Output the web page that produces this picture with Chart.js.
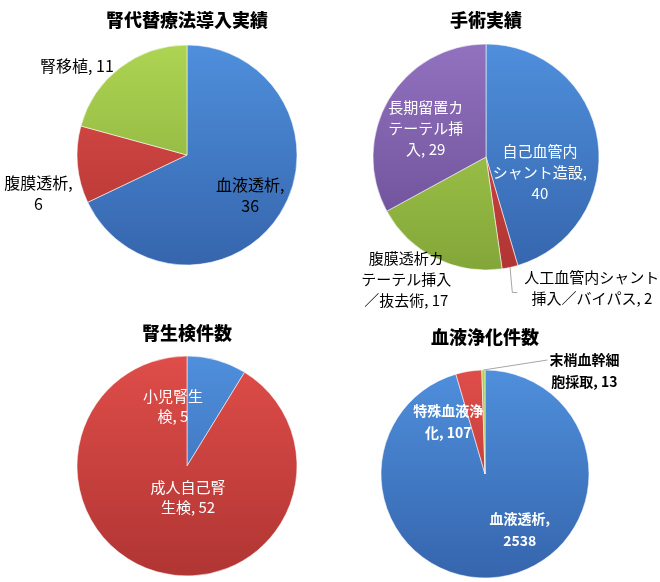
<!DOCTYPE html>
<html>
<head>
<meta charset="utf-8">
<script src="https://cdn.jsdelivr.net/npm/chart.js@4.4.1/dist/chart.umd.min.js"></script>
<style>
  html, body { margin: 0; padding: 0; background: #ffffff; }
  #wrap { position: relative; width: 660px; height: 582px; overflow: hidden; }
  #wrap canvas { position: absolute; left: 0; top: 0; pointer-events: none; }
</style>
</head>
<body>
<div id="wrap"></div>
<script>
// ---------- DATA ----------
const rrtTitle = '腎代替療法導入実績';
const rrtCategories = ['血液透析', '腹膜透析', '腎移植'];
const rrtValues = [36, 6, 11];

const surgeryTitle = '手術実績';
const surgeryCategories = ['自己血管内シャント造設', '人工血管内シャント挿入／バイパス', '腹膜透析カテーテル挿入／抜去術', '長期留置カテーテル挿入'];
const surgeryValues = [40, 2, 17, 29];

const biopsyTitle = '腎生検件数';
const biopsyCategories = ['小児腎生検', '成人自己腎生検'];
const biopsyValues = [5, 52];

const purificationTitle = '血液浄化件数';
const purificationCategories = ['血液透析', '特殊血液浄化', '末梢血幹細胞採取'];
const purificationValues = [2538, 107, 13];

// ---------- STYLE ----------
const FONT = '"Noto Sans CJK JP", "Noto Sans", sans-serif';
const W = 660, H = 582;
const PALETTE = {
  blue:   ['#4f8fdc', '#3565ad'],
  red:    ['#df4d49', '#b03533'],
  green:  ['#add452', '#83a639'],
  purple: ['#9272bf', '#684a92']
};

function wrapLabel(text, counts) {
  const lines = [];
  let rest = text;
  counts.forEach(n => { lines.push(rest.slice(0, n)); rest = rest.slice(n).replace(/^\s+/, ''); });
  lines.push(rest);
  return lines;
}

const specs = [
  {
    title: rrtTitle, cats: rrtCategories, vals: rrtValues,
    cx: 187, cy: 155, r: 110, titleY: 20,
    colors: ['blue', 'red', 'green'],
    font: { size: 16, weight: 'normal', lh: 21 },
    labels: [
      { wrap: [5], k: 0.68, dx: 0, dy: 0, color: '#000' },
      { wrap: [5], k: 1.2, dx: -17, dy: 27, color: '#000' },
      { wrap: [], k: 1.2, dx: -30, dy: 16, color: '#000' }
    ]
  },
  {
    title: surgeryTitle, cats: surgeryCategories, vals: surgeryValues,
    cx: 486, cy: 157, r: 113, titleY: 20,
    colors: ['blue', 'red', 'green', 'purple'],
    font: { size: 15, weight: 'normal', lh: 21 },
    labels: [
      { wrap: [5, 7], k: 0.5, dx: -2, dy: 23, color: '#fff' },
      { wrap: [9], k: 1.2, dx: 77, dy: -2, color: '#000', leader: 'elbow' },
      { wrap: [5, 6], k: 1.2, dx: -19, dy: 1, color: '#000' },
      { wrap: [5, 5], k: 0.6, dx: -2, dy: 6, color: '#fff' }
    ]
  },
  {
    title: biopsyTitle, cats: biopsyCategories, vals: biopsyValues,
    cx: 187, cy: 466, r: 110, titleY: 333,
    colors: ['blue', 'red'],
    font: { size: 15, weight: 'normal', lh: 20 },
    labels: [
      { wrap: [4], k: 0.6, dx: -32, dy: 4, color: '#fff' },
      { wrap: [5], k: 0.3, dx: 10, dy: 0, color: '#fff' }
    ]
  },
  {
    title: purificationTitle, cats: purificationCategories, vals: purificationValues,
    cx: 485, cy: 474, r: 104, titleY: 337,
    colors: ['blue', 'red', 'green'],
    font: { size: 14, weight: 'bold', lh: 22 },
    labels: [
      { wrap: [5], k: 0.6, dx: 26, dy: -6, color: '#fff' },
      { wrap: [5], k: 0.6, dx: -27, dy: 9, color: '#fff' },
      { wrap: [5], k: 1.0, dx: 101, dy: 1, color: '#000', leader: 'straight' }
    ]
  }
];

const sliceLabelPlugin = {
  id: 'sliceLabels',
  afterDatasetsDraw(chart, args, opts) {
    const ctx = chart.ctx;
    const meta = chart.getDatasetMeta(0);
    const data = chart.data.datasets[0].data;
    ctx.save();
    ctx.font = `${opts.font.weight} ${opts.font.size}px ${FONT}`;
    ctx.textAlign = 'center';
    ctx.textBaseline = 'middle';
    meta.data.forEach((arc, i) => {
      const L = opts.labels[i];
      if (!L) return;
      const p = arc.getProps(['x', 'y', 'startAngle', 'endAngle', 'outerRadius'], true);
      const mid = (p.startAngle + p.endAngle) / 2;
      const ax = p.x + Math.cos(mid) * p.outerRadius * L.k + L.dx;
      const ay = p.y + Math.sin(mid) * p.outerRadius * L.k + L.dy;
      const lines = wrapLabel(`${chart.data.labels[i]}, ${data[i]}`, L.wrap);
      const lh = opts.font.lh;
      const y0 = ay - (lines.length - 1) * lh / 2;
      const maxW = Math.max(...lines.map(s => ctx.measureText(s).width));
      const left = ax - maxW / 2;
      if (L.leader) {
        const ex = p.x + Math.cos(mid) * p.outerRadius;
        const ey = p.y + Math.sin(mid) * p.outerRadius;
        ctx.strokeStyle = '#a6a6a6';
        ctx.lineWidth = 1;
        ctx.beginPath();
        ctx.moveTo(ex, ey);
        if (L.leader === 'elbow') {
          ctx.lineTo(left - 12, ay + 5);
          ctx.lineTo(left - 7, ay + 5);
        } else {
          ctx.lineTo(left - 2, y0);
        }
        ctx.stroke();
      }
      ctx.fillStyle = L.color;
      lines.forEach((s, j) => ctx.fillText(s, ax, y0 + j * lh));
    });
    ctx.restore();
  }
};

const wrap = document.getElementById('wrap');
specs.forEach(spec => {
  const canvas = document.createElement('canvas');
  canvas.width = W; canvas.height = H;
  canvas.style.width = W + 'px'; canvas.style.height = H + 'px';
  wrap.appendChild(canvas);
  const S = 2 * spec.r + 1;
  const areaTop = spec.cy - S / 2;
  const titleH = 18 * 1.2;
  const padTop = spec.titleY - titleH / 2;
  new Chart(canvas, {
    type: 'pie',
    data: {
      labels: spec.cats,
      datasets: [{
        data: spec.vals,
        backgroundColor: (c) => {
          const pair = PALETTE[spec.colors[c.dataIndex]];
          const area = c.chart.chartArea;
          if (!area) return pair[0];
          const g = c.chart.ctx.createLinearGradient(0, area.top, 0, area.bottom);
          g.addColorStop(0, pair[0]);
          g.addColorStop(1, pair[1]);
          return g;
        },
        borderColor: 'rgba(255,255,255,0.55)',
        borderWidth: 1
      }]
    },
    options: {
      responsive: false,
      animation: false,
      events: [],
      layout: {
        padding: {
          left: spec.cx - S / 2,
          right: W - (spec.cx + S / 2),
          top: padTop,
          bottom: H - (spec.cy + S / 2)
        }
      },
      plugins: {
        legend: { display: false },
        tooltip: { enabled: false },
        title: {
          display: true,
          text: spec.title,
          color: '#000',
          font: { family: FONT, size: 18, weight: 900, lineHeight: 1.2 },
          padding: { top: 0, bottom: areaTop - (padTop + titleH) }
        },
        sliceLabels: { font: spec.font, labels: spec.labels }
      }
    },
    plugins: [sliceLabelPlugin]
  });
});
</script>
</body>
</html>
